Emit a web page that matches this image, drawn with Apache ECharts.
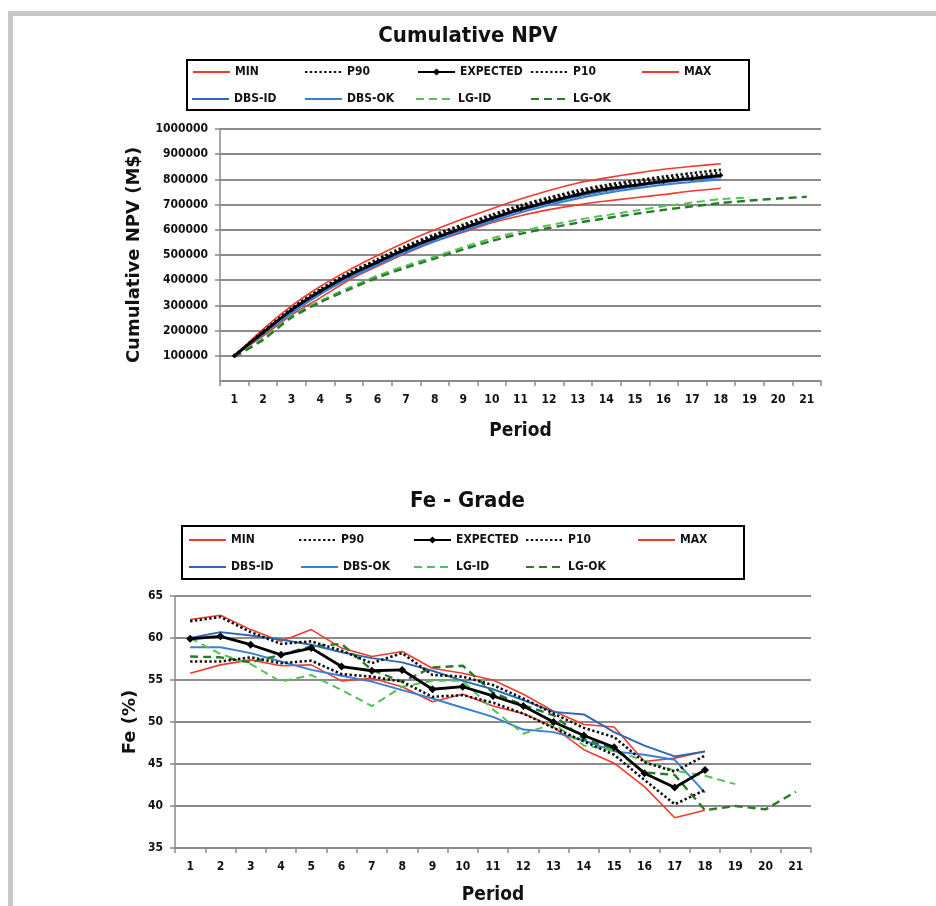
<!DOCTYPE html>
<html>
<head>
<meta charset="utf-8">
<script src="https://cdn.jsdelivr.net/npm/echarts@6/dist/echarts.min.js"></script>
<style>html,body{margin:0;padding:0;background:#fff}#c{width:936px;height:906px}</style>
</head>
<body>
<div id="c"></div>
<script>
// ---------- data ----------
const periods = ['1','2','3','4','5','6','7','8','9','10','11','12','13','14','15','16','17','18','19','20','21'];
const seriesNames = ['MIN','P90','EXPECTED','P10','MAX','DBS-ID','DBS-OK','LG-ID','LG-OK'];

// Cumulative NPV (M$)
const npvMin      = [100000,178000,262000,330000,400000,455000,507000,554000,590000,628000,656000,680000,699000,714000,727000,740000,754000,765000];
const npvP90      = [100000,194000,285000,360000,425000,478000,530000,575000,615000,654000,690000,720000,748000,770000,786000,802000,814000,826000];
const npvExpected = [100000,192000,282000,356000,420000,472000,524000,568000,607000,646000,682000,712000,740000,762000,777000,792000,804000,816000];
const npvP10      = [100000,196000,288000,364000,429000,483000,536000,581000,621000,660000,697000,728000,756000,778000,795000,811000,825000,838000];
const npvMax      = [100000,205000,298000,375000,440000,498000,552000,600000,644000,684000,722000,756000,786000,806000,824000,840000,852000,862000];
const npvDbsId    = [100000,188000,276000,350000,413000,466000,517000,561000,601000,640000,676000,706000,733000,755000,772000,787000,799000,809000];
const npvDbsOk    = [100000,184000,270000,344000,406000,460000,510000,554000,595000,633000,668000,698000,724000,746000,764000,779000,790000,800000];
const npvLgId     = [97000,168000,258000,318000,370000,418000,458000,494000,531000,566000,594000,618000,640000,658000,676000,693000,708000,722000,728000];
const npvLgOk     = [95000,163000,252000,312000,363000,410000,450000,486000,522000,556000,584000,607000,628000,646000,663000,679000,693000,706000,716000,724000,731000];

// Fe grade (%)
const feMin      = [55.8,56.8,57.4,56.7,56.8,54.9,55.2,54.2,52.4,53.3,51.9,51.0,49.4,46.7,45.1,42.3,38.6,39.5];
const feP90      = [57.2,57.2,57.7,57.0,57.3,55.7,55.4,54.8,53.0,53.2,52.3,51.0,49.3,47.7,46.1,43.1,40.2,41.9];
const feExpected = [59.9,60.2,59.2,58.0,58.8,56.6,56.1,56.2,53.9,54.2,53.1,51.9,50.0,48.4,47.0,43.9,42.2,44.3];
const feP10      = [62.0,62.5,60.7,59.3,59.6,58.5,57.0,58.2,55.6,55.4,54.4,52.8,51.0,49.3,48.2,45.2,44.1,46.0];
const feMax      = [62.2,62.7,61.0,59.6,61.0,58.8,57.8,58.4,56.4,55.8,55.0,53.3,51.3,49.7,49.4,45.3,45.7,46.5];
const feDbsId    = [60.0,60.7,60.3,59.8,59.2,58.3,57.6,57.1,56.1,54.9,53.9,52.6,51.2,50.9,48.8,47.2,45.9,46.5];
const feDbsOk    = [58.9,58.9,58.2,57.2,56.2,55.5,54.8,53.8,52.8,51.7,50.6,49.1,48.8,47.8,46.5,46.1,45.5,41.6];
const feLgId     = [60.0,58.1,56.9,54.8,55.6,53.8,51.9,54.2,54.9,54.9,51.5,48.6,49.8,47.2,46.6,45.4,44.2,43.6,42.6];
const feLgOk     = [57.8,57.7,57.1,58.0,59.0,59.3,56.2,54.8,56.5,56.7,53.5,52.0,50.8,48.0,46.8,44.0,43.7,39.5,40.0,39.6,41.7];

// ---------- styles ----------
const FC = "'DejaVu Sans Condensed','Liberation Sans Narrow','DejaVu Sans',sans-serif";
const FW = "'DejaVu Sans','Liberation Sans',sans-serif";
const styles = {
  'MIN':      {color:'#f23a2e', width:1.6, type:'solid'},
  'P90':      {color:'#111111', width:2.6, type:[2.4,2.4]},
  'EXPECTED': {color:'#000000', width:2.8, type:'solid'},
  'P10':      {color:'#111111', width:2.6, type:[2.4,2.4]},
  'MAX':      {color:'#f23a2e', width:1.6, type:'solid'},
  'DBS-ID':   {color:'#2f67b5', width:1.9, type:'solid'},
  'DBS-OK':   {color:'#3a80d2', width:1.9, type:'solid'},
  'LG-ID':    {color:'#55c255', width:2.0, type:[8,5]},
  'LG-OK':    {color:'#2b7a2b', width:2.4, type:[8,5]}
};

function mk(name, data, idx, smooth, symSize) {
  const s = styles[name];
  const isExp = name === 'EXPECTED';
  return {
    name: name, type: 'line', xAxisIndex: idx, yAxisIndex: idx, data: data,
    smooth: smooth, symbol: isExp ? 'diamond' : 'none', symbolSize: symSize,
    showSymbol: isExp,
    itemStyle: {color: s.color},
    lineStyle: {color: s.color, width: s.width, type: s.type, cap: 'butt'},
    z: isExp ? 5 : (name === 'P10' || name === 'P90' ? 4 : 3),
    animation: false, silent: true
  };
}

const npvData = [npvMin,npvP90,npvExpected,npvP10,npvMax,npvDbsId,npvDbsOk,npvLgId,npvLgOk];
const feData  = [feMin,feP90,feExpected,feP10,feMax,feDbsId,feDbsOk,feLgId,feLgOk];

const series = [];
seriesNames.forEach((n,i)=>series.push(mk(n, npvData[i], 0, 0.25, 5)));
seriesNames.forEach((n,i)=>series.push(mk(n, feData[i], 1, false, 8)));

// legend placement [row y-center, x of icon]
const legendPosTop = [[73,192],[73,304],[73,417],[73,530],[73,641],[100,191],[100,304],[100,415],[100,530]];
const legendPosBot = [[541,188],[541,298],[541,413],[541,525],[541,637],[568,188],[568,300],[568,413],[568,525]];
const legends = [];
function addLegends(pos){
  seriesNames.forEach((n,i)=>{
    const isExp = n === 'EXPECTED';
    legends.push({
      data:[n], left: pos[i][1], top: pos[i][0]-7, itemWidth: 37, itemHeight: isExp ? 9 : 12,
      padding: 0, itemGap: 0, selectedMode: false,
      itemStyle: isExp ? {} : {color:'rgba(0,0,0,0)', borderWidth:0, borderColor:'rgba(0,0,0,0)', opacity:0},
      textStyle: {fontFamily: FC, fontSize: 12, fontWeight: 'bold', color: '#141414'}
    });
  });
}
addLegends(legendPosTop);
addLegends(legendPosBot);

const axisGray = '#8a8a8a';
function xAx(idx, gap){
  return {
    type:'category', gridIndex: idx, data: periods, boundaryGap: true,
    axisLine:{show:true, lineStyle:{color:axisGray, width:1.5}},
    axisTick:{show:true, length:5, lineStyle:{color:axisGray, width:1.5}},
    axisLabel:{interval:0, margin:13, fontFamily:FC, fontSize:12, fontWeight:'bold', color:'#111'},
    name:'Period', nameLocation:'middle', nameGap: gap, nameMoveOverlap:false,
    nameTextStyle:{fontFamily:FC, fontSize:19, fontWeight:'bold', color:'#111'}
  };
}
function yAx(idx, min, max, interval, name, gap, margin){
  return {
    type:'value', gridIndex: idx, min:min, max:max, interval:interval,
    axisLine:{show:true, lineStyle:{color:axisGray, width:1.5}},
    axisTick:{show:true, length:5, lineStyle:{color:axisGray, width:1.5}},
    axisLabel:{showMinLabel: idx===1, margin:margin, fontFamily:FC, fontSize:12, fontWeight:'bold', color:'#111',
               formatter: v => String(v)},
    splitLine:{show:true, lineStyle:{color:'#8c8c8c', width:2}},
    name:name, nameLocation:'middle', nameGap:gap, nameMoveOverlap:false,
    nameTextStyle:{fontFamily:FW, fontSize:18, fontWeight:'bold', color:'#111'}
  };
}

const option = {
  backgroundColor:'#ffffff',
  animation:false,
  title:[
    {text:'Cumulative NPV', left:'center', top:20, textStyle:{fontFamily:FC, fontSize:22, fontWeight:'bold', color:'#111'}},
    {text:'Fe - Grade', left:405, top:485, textStyle:{fontFamily:FC, fontSize:22, fontWeight:'bold', color:'#111'}}
  ],
  legend: legends,
  grid:[
    {left:220, top:129, width:601, height:252},
    {left:175, top:596, width:636, height:252}
  ],
  xAxis:[xAx(0,41), xAx(1,38)],
  yAxis:[
    yAx(0, 0, 1000000, 100000, 'Cumulative NPV (M$)', 77, 12),
    yAx(1, 35, 65, 5, 'Fe (%)', 36, 12)
  ],
  graphic:[
    {type:'rect', shape:{x:8,y:11,width:928,height:5}, style:{fill:'#c8c8c8'}, silent:true},
    {type:'rect', shape:{x:8,y:11,width:5,height:895}, style:{fill:'#c8c8c8'}, silent:true},
    {type:'rect', shape:{x:187,y:60,width:562,height:50}, style:{fill:'none', stroke:'#000', lineWidth:2}, silent:true},
    {type:'rect', shape:{x:182,y:526,width:562,height:53}, style:{fill:'none', stroke:'#000', lineWidth:2}, silent:true}
  ],
  series: series
};

const chart = echarts.init(document.getElementById('c'), null, {renderer:'canvas'});
chart.setOption(option);
</script>
</body>
</html>
